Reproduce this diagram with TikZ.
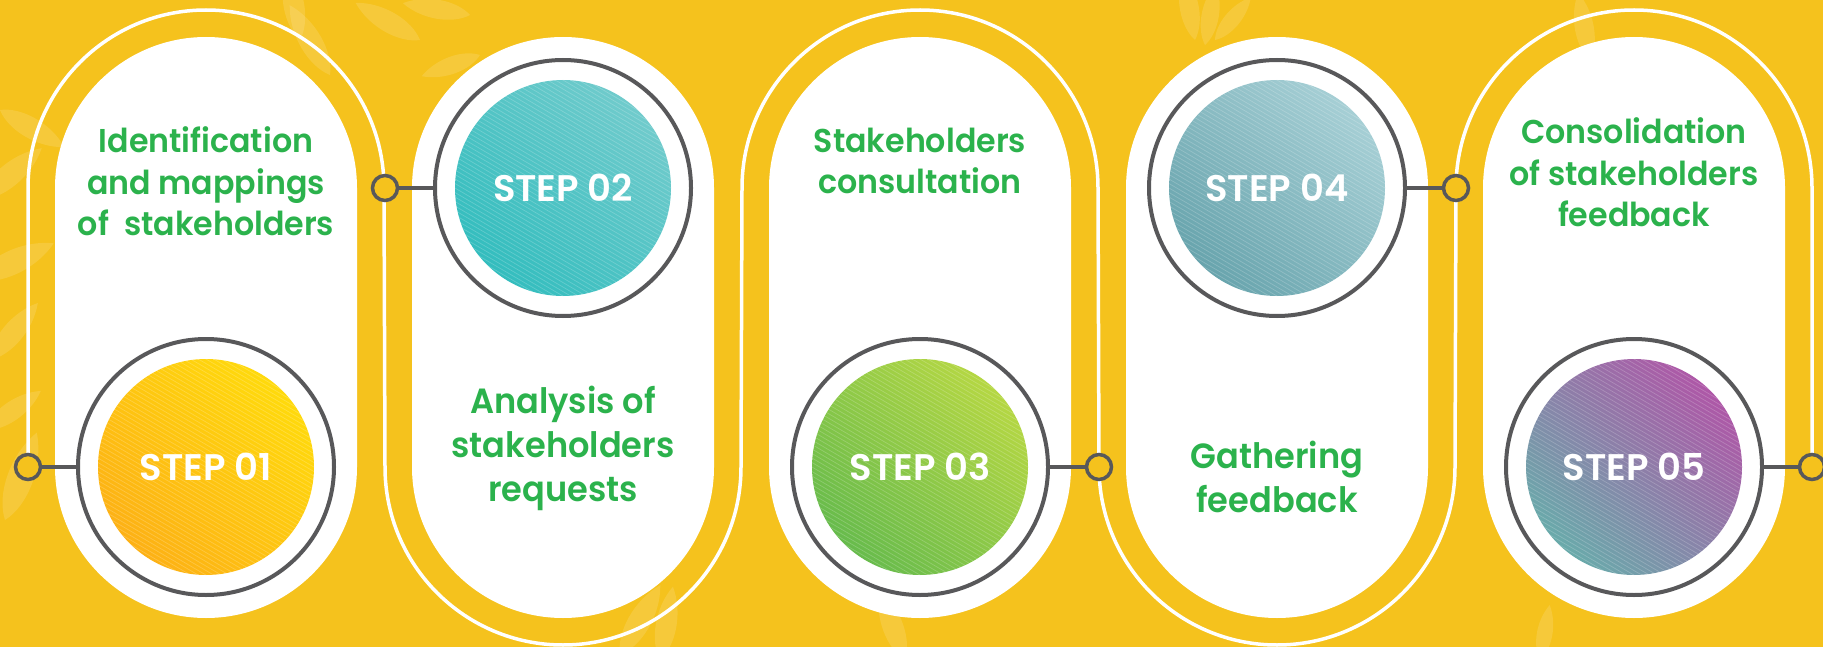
\documentclass[tikz,border=0pt]{standalone}
\usepackage{fontspec}
\setmainfont{Poppins}
\newfontfamily\gfont{Poppins SemiBold}[FakeStretch=0.96]
\newfontfamily\sfont{Poppins SemiBold}
\definecolor{bg}{HTML}{F5C21D}
\definecolor{ringc}{HTML}{58585A}
\definecolor{gtxt}{HTML}{2BB24C}
\definecolor{c1a}{HTML}{FFDA0C}\definecolor{c1b}{HTML}{FDB115}
\definecolor{c2a}{HTML}{70CBCC}\definecolor{c2b}{HTML}{33BDBE}
\definecolor{c3a}{HTML}{B5D743}\definecolor{c3b}{HTML}{67BB4C}
\definecolor{c4a}{HTML}{A6CFD5}\definecolor{c4b}{HTML}{68A4AD}
\definecolor{c5a}{HTML}{AE57A7}\definecolor{c5b}{HTML}{69AAAA}
\tikzset{
  leaf/.pic={\fill[white,opacity=0.13] (0,0) .. controls (14,-11) and (42,-12) .. (62,0) .. controls (42,12) and (14,11) .. (0,0) -- cycle;},
  pillfill/.style={fill=white},
  outline/.style={draw=white,line width=3.5pt},
  ring/.style={circle,draw=ringc,line width=4pt,minimum size=256pt,inner sep=0pt},
  dotc/.style={circle,draw=ringc,line width=3.5pt,fill=bg,minimum size=25pt,inner sep=0pt},
  conn/.style={draw=ringc,line width=4pt},
  hatch/.style={draw=white,opacity=0.2,line width=0.7pt},
  steplbl/.style={text=white,font=\fontsize{37pt}{37pt}\sfont,inner sep=0pt},
  gtext/.style={text=gtxt,align=center,anchor=base,inner sep=0pt},
}
\newcommand{\stepdisc}[3]{%
  \shade[top color=#2,bottom color=#3,shading angle=-45] (#1) circle (108);
  \begin{scope}
    \clip (#1) circle (108);
    \begin{scope}[shift={(#1)}]
      \foreach \k in {-32,...,32} \draw[hatch] (-160,\k*4.5-93.3) -- ++(320,186.7);
    \end{scope}
  \end{scope}}
\begin{document}
\begin{tikzpicture}[x=1pt,y=-1pt]
\fill[bg] (0,0) rectangle (1823,647);
\useasboundingbox (0,0) rectangle (1823,647);
% faint leaves
\pic[rotate=40,scale=1.3] at (-20,200) {leaf};
\pic[rotate=25,scale=1.4] at (-25,280) {leaf};
\pic[rotate=50,scale=1.2] at (-10,360) {leaf};
\pic[rotate=35,scale=1.1] at (-15,430) {leaf};
\pic[rotate=70,scale=1.5] at (5,520) {leaf};
\pic[rotate=-30,scale=1.2] at (0,110) {leaf};
\pic[rotate=120,scale=1.3] at (330,75) {leaf};
\pic[rotate=150,scale=1.2] at (420,40) {leaf};
\pic[rotate=170,scale=1.1] at (470,15) {leaf};
\pic[rotate=100,scale=1.2] at (300,40) {leaf};
\pic[rotate=200,scale=1.0] at (480,55) {leaf};
\pic[rotate=60,scale=1.3] at (620,655) {leaf};
\pic[rotate=80,scale=1.2] at (660,660) {leaf};
\pic[rotate=110,scale=1.2] at (905,660) {leaf};
\pic[rotate=80,scale=1.0] at (1205,45) {leaf};
\pic[rotate=50,scale=0.9] at (1215,40) {leaf};
\pic[rotate=100,scale=1.1] at (1195,40) {leaf};
\pic[rotate=-80,scale=1.0] at (1300,650) {leaf};
\pic[rotate=100,scale=1.1] at (1590,60) {leaf};
\pic[rotate=80,scale=0.9] at (1540,660) {leaf};
% white pills
\foreach \c in {206,563,920,1277,1634}
  \fill[pillfill] (\c-151,188) arc(180:360:151) -- (\c+151,467) arc(0:180:151) -- cycle;
% connection points
\coordinate (p1) at (28,467);
\coordinate (p2) at (385,188);
\coordinate (p3) at (1099,467);
\coordinate (p4) at (1456,188);
\coordinate (p5) at (1812,467);
% serpentine outline
\draw[outline] (p1) -- (28,188) arc(180:360:178) -- (385,467) arc(180:0:178)
  -- (742,188) arc(180:360:178) -- (1099,467) arc(180:0:178)
  -- (1456,188) arc(180:360:178) -- (p5);
% discs
\stepdisc{206,467}{c1a}{c1b}
\stepdisc{563,188}{c2a}{c2b}
\stepdisc{920,467}{c3a}{c3b}
\stepdisc{1277,188}{c4a}{c4b}
\stepdisc{1634,467}{c5a}{c5b}
% rings
\node[ring] (r1) at (206,467) {};
\node[ring] (r2) at (563,188) {};
\node[ring] (r3) at (920,467) {};
\node[ring] (r4) at (1277,188) {};
\node[ring] (r5) at (1634,467) {};
% dots
\node[dotc] (d1) at (p1) {};
\node[dotc] (d2) at (p2) {};
\node[dotc] (d3) at (p3) {};
\node[dotc] (d4) at (p4) {};
\node[dotc] (d5) at (p5) {};
% connectors
\draw[conn] (d1) -- (r1);
\draw[conn] (d2) -- (r2);
\draw[conn] (r3) -- (d3);
\draw[conn] (r4) -- (d4);
\draw[conn] (r5) -- (d5);
% step labels
\node[steplbl] (l1) at (r1) {STEP 01};
\node[steplbl] (l2) at (r2) {STEP 02};
\node[steplbl] (l3) at (r3) {STEP 03};
\node[steplbl] (l4) at (r4) {STEP 04};
\node[steplbl] (l5) at (r5) {STEP 05};
% texts (anchor base = last line baseline)
\node[gtext,font=\fontsize{33pt}{41.5pt}\gfont] (t1) at (206,236) {Identification\\and mappings\\of~ stakeholders};
\node[gtext,font=\fontsize{35pt}{44pt}\gfont] (t2) at (563,501) {Analysis of\\stakeholders\\requests};
\node[gtext,font=\fontsize{33pt}{41pt}\gfont] (t3) at (920,194) {Stakeholders\\consultation};
\node[gtext,font=\fontsize{35pt}{44pt}\gfont] (t4) at (1277,512) {Gathering\\feedback};
\node[gtext,font=\fontsize{33pt}{41.5pt}\gfont] (t5) at (1634,227) {Consolidation\\of stakeholders\\feedback};
\end{tikzpicture}
\end{document}
